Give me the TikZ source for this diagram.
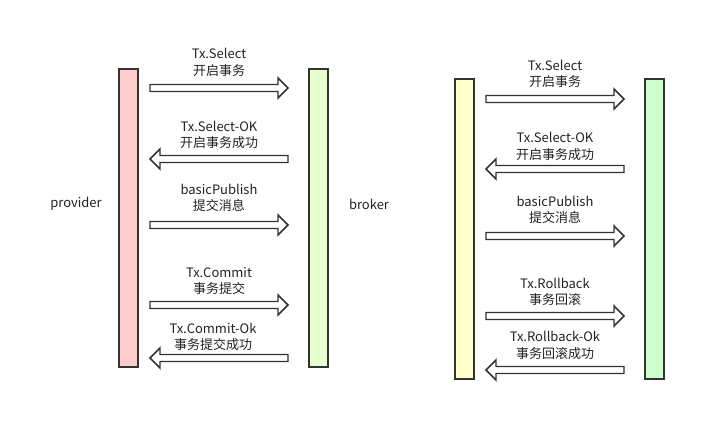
\documentclass[tikz,border=0pt]{standalone}
\usepackage{fontspec}
\setmainfont{Noto Sans CJK SC}
\usetikzlibrary{calc}
\definecolor{edge}{HTML}{333333}
\definecolor{txt}{HTML}{222222}
\definecolor{pinkbar}{HTML}{FFCCCC}
\definecolor{limebar}{HTML}{E6FFCC}
\definecolor{yellowbar}{HTML}{FFFFCC}
\definecolor{greenbar}{HTML}{CCFFCC}

% hollow message arrow between two named coordinates
\newcommand{\msgright}[2]{%
  \draw[msg] ($(#1)+(0,-3.5)$) -- ($(#2)+(-10,-3.5)$) -- ($(#2)+(-10,-10)$) -- (#2)
    -- ($(#2)+(-10,10)$) -- ($(#2)+(-10,3.5)$) -- ($(#1)+(0,3.5)$) -- cycle;}
\newcommand{\msgleft}[2]{%
  \draw[msg] ($(#1)+(0,-3.5)$) -- ($(#2)+(10,-3.5)$) -- ($(#2)+(10,-10)$) -- (#2)
    -- ($(#2)+(10,10)$) -- ($(#2)+(10,3.5)$) -- ($(#1)+(0,3.5)$) -- cycle;}

\begin{document}
\begin{tikzpicture}[x=0.75pt, y=-0.75pt,
  bar/.style={draw=edge, line width=1.5pt, minimum width=14.25pt, inner sep=0pt},
  msg/.style={draw=edge, line width=1.1pt, fill=white, line join=miter},
  lbl/.style={text=txt, align=center, font=\fontsize{9.75pt}{12.4pt}\selectfont}]
  \useasboundingbox (0,0) rectangle (726,441);

  % left panel
  \node[bar, fill=pinkbar, minimum height=223.5pt] (lprov) at (128,218.5) {};
  \node[bar, fill=limebar, minimum height=223.5pt] (lbrok) at (318,218.5) {};
  \node[lbl] (provider) at (76,204) {provider};
  \node[lbl] (broker) at (369,204) {broker};

  \coordinate (la1) at (150,88);  \coordinate (lb1) at (288,88);
  \coordinate (la2) at (150,159); \coordinate (lb2) at (288,159);
  \coordinate (la3) at (150,225); \coordinate (lb3) at (288,225);
  \coordinate (la4) at (150,305); \coordinate (lb4) at (288,305);
  \coordinate (la5) at (150,358); \coordinate (lb5) at (288,358);
  \msgright{la1}{lb1}
  \msgleft{lb2}{la2}
  \msgright{la3}{lb3}
  \msgright{la4}{lb4}
  \msgleft{lb5}{la5}
  \node[lbl] (lt1) at (219,62.5) {Tx.Select\\开启事务};
  \node[lbl] (lt2) at (219,135) {Tx.Select-OK\\开启事务成功};
  \node[lbl] (lt3) at (219,198) {basicPublish\\提交消息};
  \node[lbl] (lt4) at (219,281) {Tx.Commit\\事务提交};
  \node[lbl] (lt5) at (213,337) {Tx.Commit-Ok\\事务提交成功};

  % right panel
  \node[bar, fill=yellowbar, minimum height=225pt] (rprov) at (464,229.5) {};
  \node[bar, fill=greenbar, minimum height=225pt] (rbrok) at (654,229.5) {};

  \coordinate (ra1) at (486,99);  \coordinate (rb1) at (624,99);
  \coordinate (ra2) at (486,169); \coordinate (rb2) at (624,169);
  \coordinate (ra3) at (486,236); \coordinate (rb3) at (624,236);
  \coordinate (ra4) at (486,316); \coordinate (rb4) at (624,316);
  \coordinate (ra5) at (486,370); \coordinate (rb5) at (624,370);
  \msgright{ra1}{rb1}
  \msgleft{rb2}{ra2}
  \msgright{ra3}{rb3}
  \msgright{ra4}{rb4}
  \msgleft{rb5}{ra5}
  \node[lbl] (rt1) at (555,74) {Tx.Select\\开启事务};
  \node[lbl] (rt2) at (555,146.5) {Tx.Select-OK\\开启事务成功};
  \node[lbl] (rt3) at (555,210) {basicPublish\\提交消息};
  \node[lbl] (rt4) at (555,292) {Tx.Rollback\\事务回滚};
  \node[lbl] (rt5) at (555,345.5) {Tx.Rollback-Ok\\事务回滚成功};
\end{tikzpicture}
\end{document}
